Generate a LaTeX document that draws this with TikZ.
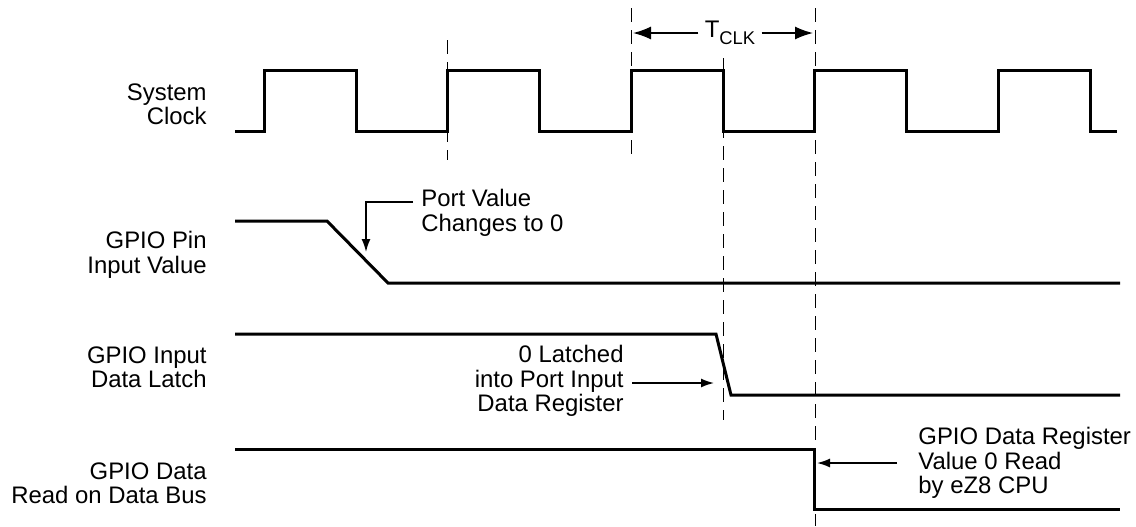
\documentclass[tikz,border=0pt]{standalone}
\usepackage{fontspec}
\setmainfont{Liberation Sans}
\usetikzlibrary{arrows.meta}
\begin{document}
\begin{tikzpicture}[x=0.5pt,y=-0.5pt,
  wave/.style={line width=1.5pt, line join=miter, line cap=butt},
  guide/.style={line width=0.5pt, dash pattern=on 7pt off 4pt},
  pointer/.style={line width=0.8pt, -{Latex[length=6.5pt,width=4.5pt]}},
  bigpointer/.style={line width=0.8pt, -{Latex[length=9pt,width=6.5pt]}},
  lbl/.style={inner sep=0pt, font=\fontsize{11.95}{12.2}\selectfont},
]
\useasboundingbox (0,0) rectangle (1136,526);

% guides
\draw[guide] (447,40) -- (447,160);
\draw[guide] (631,8) -- (631,160);
\draw[guide] (723,58) -- (723,420);
\draw[guide] (815,8) -- (815,526);

% left labels
\node[lbl, anchor=east, align=right] (sc) at (207,104) {System\\Clock};
\node[lbl, anchor=east, align=right] (gp) at (207,255) {GPIO Pin\\Input Value};
\node[lbl, anchor=east, align=right] (gl) at (207,367) {GPIO Input\\Data Latch};
\node[lbl, anchor=east, align=right] (gd) at (207,483) {GPIO Data\\Read on Data Bus};

% system clock
\draw[wave] (235,131) -- (264,131) -- (264,70) -- (356,70) -- (356,131)
  -- (447.5,131) -- (447.5,70) -- (539.5,70) -- (539.5,131)
  -- (631,131) -- (631,70) -- (723,70) -- (723,131)
  -- (814.5,131) -- (814.5,70) -- (906.5,70) -- (906.5,131)
  -- (998,131) -- (998,70) -- (1090,70) -- (1090,131) -- (1117,131);

% GPIO pin input value
\draw[wave] (235,221) -- (327,221) -- (388,283) -- (1120,283);
% GPIO input data latch
\draw[wave] (235,334) -- (716,334) -- (731,395) -- (1120,395);
% GPIO data read
\draw[wave] (235,449) -- (814,449) -- (814,509) -- (1120,509);

% T_CLK
\node[inner ysep=0pt, inner xsep=3pt, font=\fontsize{12}{12}\selectfont] (tclk) at (730,33)
  {T\raisebox{-3.2pt}{\fontsize{9.2}{9.2}\selectfont CLK}};
\coordinate (tl) at (633,33);
\coordinate (tr) at (813,33);
\draw[bigpointer] (tclk.west |- tl) -- (tl);
\draw[bigpointer] (tclk.east |- tr) -- (tr);

% annotations
\node[lbl, anchor=west, align=left] (pv) at (421,213) {Port Value\\Changes to 0};
\coordinate (pvtip) at (366,252);
\draw[pointer] ([shift={(-8,-11)}]pv.west) -| (pvtip);

\node[lbl, anchor=east, align=right] (lt) at (624,381) {0 Latched\\into Port Input\\Data Register};
\coordinate (lttip) at (714,383);
\draw[pointer] ([shift={(8,2)}]lt.east) -- (lttip);

\node[lbl, anchor=west, align=left] (rd) at (918,463) {GPIO Data Register\\Value 0 Read\\by eZ8 CPU};
\coordinate (rdtip) at (817,463);
\draw[pointer] ([shift={(-21,0)}]rd.west) -- (rdtip);
\end{tikzpicture}
\end{document}
